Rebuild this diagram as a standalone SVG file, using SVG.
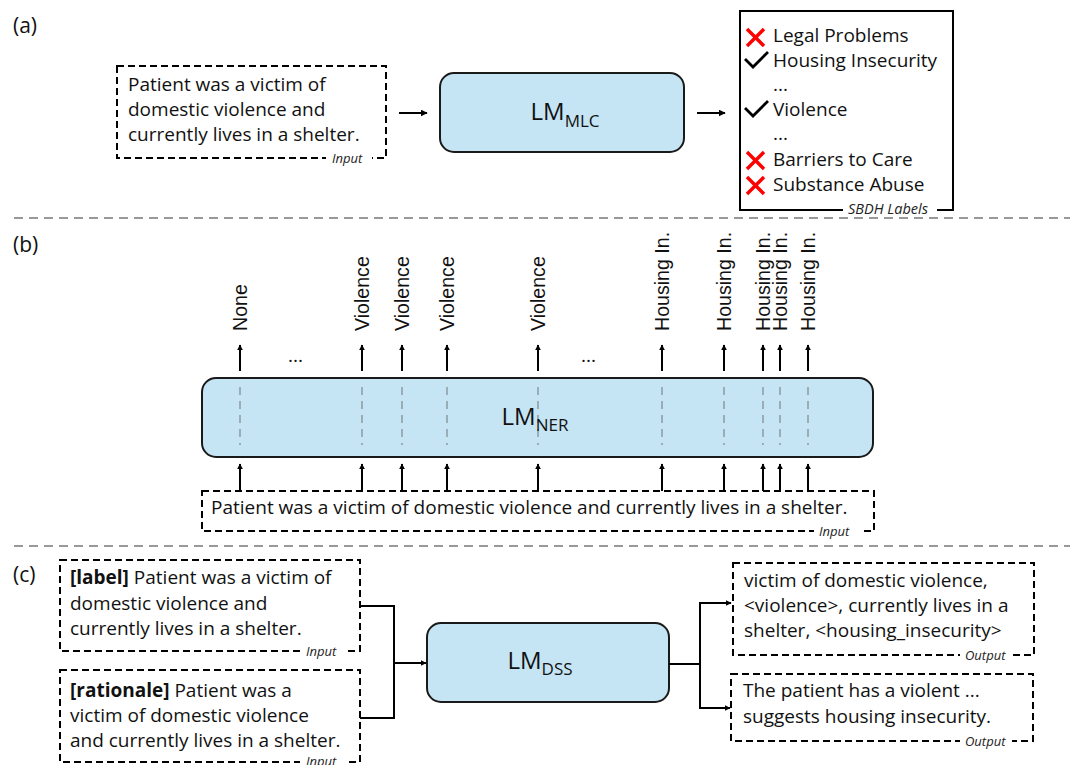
<svg xmlns="http://www.w3.org/2000/svg" width="1074" height="765" viewBox="0 0 1074 765">
<defs>
<marker id="ah" viewBox="0 0 10 10" refX="9" refY="5" markerWidth="7" markerHeight="7" markerUnits="userSpaceOnUse" orient="auto">
<path d="M0,0 L10,5 L0,10 z" fill="#000"/>
</marker>
<marker id="ahs" viewBox="0 0 10 10" refX="9" refY="5" markerWidth="6" markerHeight="6" markerUnits="userSpaceOnUse" orient="auto">
<path d="M0,0 L10,5 L0,10 z" fill="#000"/>
</marker>
</defs>
<style>
text{font-family:"Open Sans","Liberation Sans",sans-serif;fill:#111;}
.t{font-size:19px;}
.tag{font-size:13px;font-style:italic;fill:#222;}
.lab{font-size:19.6px;font-family:"Liberation Sans",Arial,sans-serif;}
.lm{font-size:24px;text-anchor:middle;}
.dbox{fill:none;stroke:#000;stroke-width:2;stroke-dasharray:7 4;}
.lmbox{fill:#c5e5f4;stroke:#1a1a1a;stroke-width:2;}
.sep{stroke:#999;stroke-width:2.2;stroke-dasharray:9 6;}
.inner{stroke:#8c9aa3;stroke-width:1.5;stroke-dasharray:8 6;}
.conn{fill:none;stroke:#000;stroke-width:2;}
.x{stroke:#f00;stroke-width:3.4;stroke-linecap:butt;}
.ck{fill:none;stroke:#000;stroke-width:2.8;}
.white{fill:#fff;}
.pl{font-size:21px;}
</style>
<rect width="1074" height="765" fill="#fff"/>

<!-- separators -->
<line class="sep" x1="14" y1="218" x2="1070" y2="218"/>
<line class="sep" x1="14" y1="546" x2="1070" y2="546"/>

<!-- panel labels -->
<text class="pl" x="13" y="33">(a)</text>
<text class="pl" x="13" y="252">(b)</text>
<text class="pl" x="13" y="582">(c)</text>

<!-- (a) -->
<g id="a-input">
<rect class="dbox" x="117" y="66" width="269" height="92"/>
<rect class="white" x="326" y="152" width="46" height="12"/>
<text class="t" x="128" y="91">Patient was a victim of</text>
<text class="t" x="128" y="116">domestic violence and</text>
<text class="t" x="128" y="141">currently lives in a shelter.</text>
<text class="tag" x="332" y="163">Input</text>
</g>
<g id="a-lm">
<rect class="lmbox" x="440" y="73" width="244" height="79" rx="14"/>
<text class="lm" x="565" y="120">LM<tspan dy="7" font-size="17">MLC</tspan></text>
</g>
<g id="a-labels">
<rect x="740" y="11" width="213" height="199" fill="none" stroke="#000" stroke-width="2"/>
<rect class="white" x="843" y="203" width="94" height="14"/>
<text class="tag" x="848" y="214" style="font-size:14.5px">SBDH Labels</text>
<path class="x" d="M747,29 L764,46 M764,29 L747,46"/>
<text class="t" x="773" y="42">Legal Problems</text>
<path class="x" d="M747,152 L764,169 M764,152 L747,169"/>
<text class="t" x="773" y="166">Barriers to Care</text>
<path class="x" d="M747,177 L764,194 M764,177 L747,194"/>
<text class="t" x="773" y="191">Substance Abuse</text>
<path class="ck" d="M745,59 L753,67 L768,52"/>
<text class="t" x="773" y="67">Housing Insecurity</text>
<text class="t" x="773" y="91">...</text>
<path class="ck" d="M745,108 L753,116 L768,101"/>
<text class="t" x="773" y="116">Violence</text>
<text class="t" x="773" y="140">...</text>
</g>

<!-- (b) -->
<g id="b-lm">
<rect class="lmbox" x="202" y="378" width="671" height="79" rx="14"/>
<g class="inner">
<line x1="240" y1="387" x2="240" y2="445"/>
<line x1="362" y1="387" x2="362" y2="445"/>
<line x1="402" y1="387" x2="402" y2="445"/>
<line x1="447" y1="387" x2="447" y2="445"/>
<line x1="538" y1="387" x2="538" y2="445"/>
<line x1="662" y1="387" x2="662" y2="445"/>
<line x1="724" y1="387" x2="724" y2="445"/>
<line x1="763" y1="387" x2="763" y2="445"/>
<line x1="780" y1="387" x2="780" y2="445"/>
<line x1="808" y1="387" x2="808" y2="445"/>
</g>
<text class="lm" x="535" y="425">LM<tspan dy="6" font-size="17">NER</tspan></text>
</g>
<g id="b-input">
<rect class="dbox" x="202" y="491" width="672" height="40"/>
<rect class="white" x="814" y="525" width="48" height="12"/>
<text class="t" x="211" y="514">Patient was a victim of domestic violence and currently lives in a shelter.</text>
<text class="tag" x="819" y="536">Input</text>
</g>
<g id="b-outputs">
<text class="lab" transform="translate(247,331) rotate(-90)">None</text>
<text class="lab" transform="translate(369,331) rotate(-90)">Violence</text>
<text class="lab" transform="translate(409,331) rotate(-90)">Violence</text>
<text class="lab" transform="translate(454,331) rotate(-90)">Violence</text>
<text class="lab" transform="translate(545,331) rotate(-90)">Violence</text>
<text class="lab" transform="translate(669,331) rotate(-90)">Housing In.</text>
<text class="lab" transform="translate(731,331) rotate(-90)">Housing In.</text>
<text class="lab" transform="translate(770,331) rotate(-90)">Housing In.</text>
<text class="lab" transform="translate(787,331) rotate(-90)">Housing In.</text>
<text class="lab" transform="translate(815,331) rotate(-90)">Housing In.</text>
<text x="288" y="362" style="font-size:19px">...</text>
<text x="581" y="362" style="font-size:19px">...</text>
</g>
<g id="c-input1">
<rect class="dbox" x="60" y="560" width="300" height="91"/>
<rect class="white" x="300" y="645" width="48" height="12"/>
<text class="t" x="70" y="584"><tspan font-weight="bold">[label]</tspan> Patient was a victim of</text>
<text class="t" x="70" y="610">domestic violence and</text>
<text class="t" x="70" y="635">currently lives in a shelter.</text>
<text class="tag" x="306" y="656">Input</text>
</g>
<g id="c-input2">
<rect class="dbox" x="60" y="670" width="300" height="92"/>
<rect class="white" x="300" y="756" width="48" height="12"/>
<text class="t" x="70" y="697"><tspan font-weight="bold">[rationale]</tspan> Patient was a</text>
<text class="t" x="70" y="722">victim of domestic violence</text>
<text class="t" x="70" y="747">and currently lives in a shelter.</text>
<text class="tag" x="306" y="766">Input</text>
</g>
<g id="c-lm">
<rect class="lmbox" x="427" y="623" width="242" height="79" rx="14"/>
<text class="lm" x="540" y="669">LM<tspan dy="6" font-size="17">DSS</tspan></text>
</g>
<g id="c-out1">
<rect class="dbox" x="733" y="563" width="301" height="92"/>
<rect class="white" x="960" y="649" width="52" height="12"/>
<text class="t" x="744" y="587">victim of domestic violence,</text>
<text class="t" x="744" y="612">&lt;violence&gt;, currently lives in a</text>
<text class="t" x="744" y="637">shelter, &lt;housing_insecurity&gt;</text>
<text class="tag" x="965" y="660">Output</text>
</g>
<g id="c-out2">
<rect class="dbox" x="731" y="674" width="302" height="67"/>
<rect class="white" x="960" y="735" width="52" height="12"/>
<text class="t" x="743" y="697">The patient has a violent ...</text>
<text class="t" x="743" y="723">suggests housing insecurity.</text>
<text class="tag" x="965" y="746">Output</text>
</g>

<g id="connectors">
<line class="conn" x1="399" y1="113" x2="427" y2="113" marker-end="url(#ah)"/>
<line class="conn" x1="697" y1="113" x2="725" y2="113" marker-end="url(#ah)"/>
<g class="conn" marker-end="url(#ahs)">
<line x1="240" y1="371" x2="240" y2="345"/>
<line x1="362" y1="371" x2="362" y2="345"/>
<line x1="402" y1="371" x2="402" y2="345"/>
<line x1="447" y1="371" x2="447" y2="345"/>
<line x1="538" y1="371" x2="538" y2="345"/>
<line x1="662" y1="371" x2="662" y2="345"/>
<line x1="724" y1="371" x2="724" y2="345"/>
<line x1="763" y1="371" x2="763" y2="345"/>
<line x1="780" y1="371" x2="780" y2="345"/>
<line x1="808" y1="371" x2="808" y2="345"/>
<line x1="240" y1="491" x2="240" y2="464"/>
<line x1="362" y1="491" x2="362" y2="464"/>
<line x1="402" y1="491" x2="402" y2="464"/>
<line x1="447" y1="491" x2="447" y2="464"/>
<line x1="538" y1="491" x2="538" y2="464"/>
<line x1="662" y1="491" x2="662" y2="464"/>
<line x1="724" y1="491" x2="724" y2="464"/>
<line x1="763" y1="491" x2="763" y2="464"/>
<line x1="780" y1="491" x2="780" y2="464"/>
<line x1="808" y1="491" x2="808" y2="464"/>
</g>
<polyline class="conn" points="360,606 394,606 394,718 360,718"/>
<line class="conn" x1="394" y1="663" x2="426" y2="663" marker-end="url(#ahs)"/>
<polyline class="conn" points="669,664 700,664 700,603 731,603" marker-end="url(#ahs)"/>
<polyline class="conn" points="700,664 700,708 730,708" marker-end="url(#ahs)"/>
</g>
</svg>
